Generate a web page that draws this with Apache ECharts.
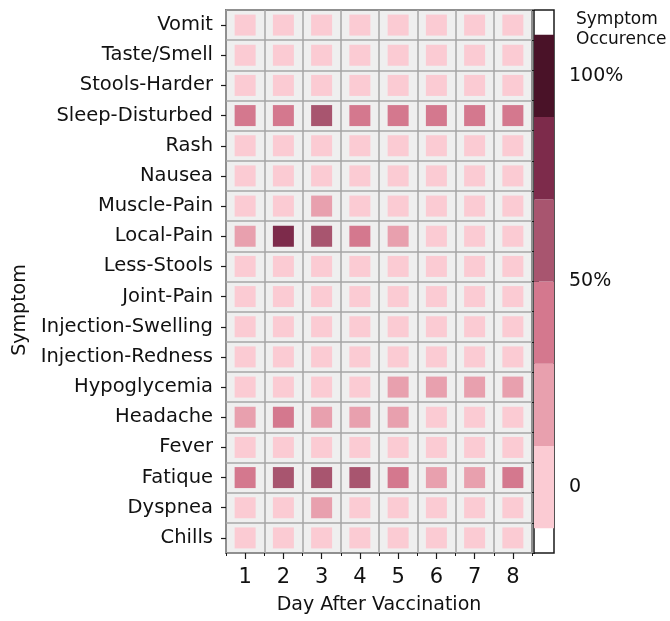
<!DOCTYPE html>
<html>
<head>
<meta charset="utf-8">
<script src="https://cdn.jsdelivr.net/npm/echarts@6/dist/echarts.min.js"></script>
<style>
  html, body { margin: 0; padding: 0; background: #fff; }
  #chart { width: 670px; height: 621px; }
</style>
</head>
<body>
<div id="chart"></div>
<script>
// Days after vaccination (x categories)
const days = ['1', '2', '3', '4', '5', '6', '7', '8'];

// Symptoms, listed top to bottom
const symptoms = [
  'Vomit', 'Taste/Smell', 'Stools-Harder', 'Sleep-Disturbed', 'Rash', 'Nausea',
  'Muscle-Pain', 'Local-Pain', 'Less-Stools', 'Joint-Pain', 'Injection-Swelling',
  'Injection-Redness', 'Hypoglycemia', 'Headache', 'Fever', 'Fatique', 'Dyspnea', 'Chills'
];

// Symptom occurrence in percent, one row per symptom, one column per day
const occurrence = [
  [2, 1, 3, 2, 1, 0, 1, 0],        // Vomit
  [1, 0, 2, 1, 0, 1, 0, 0],        // Taste/Smell
  [3, 2, 1, 2, 1, 0, 1, 0],        // Stools-Harder
  [38, 41, 57, 40, 42, 36, 34, 37],// Sleep-Disturbed
  [4, 2, 3, 1, 2, 0, 1, 0],        // Rash
  [5, 3, 4, 2, 1, 1, 0, 0],        // Nausea
  [7, 6, 18, 5, 3, 2, 1, 1],       // Muscle-Pain
  [21, 84, 63, 44, 22, 6, 4, 3],   // Local-Pain
  [2, 1, 1, 2, 1, 0, 0, 1],        // Less-Stools
  [4, 3, 5, 3, 2, 1, 1, 0],        // Joint-Pain
  [6, 4, 3, 2, 1, 1, 0, 0],        // Injection-Swelling
  [5, 4, 3, 2, 2, 1, 0, 0],        // Injection-Redness
  [6, 5, 4, 7, 17, 15, 16, 18],    // Hypoglycemia
  [23, 36, 21, 24, 19, 8, 6, 5],   // Headache
  [3, 5, 4, 2, 1, 0, 1, 0],        // Fever
  [41, 58, 62, 61, 43, 22, 20, 38],// Fatique
  [4, 3, 14, 3, 2, 1, 1, 0],       // Dyspnea
  [3, 4, 3, 2, 1, 0, 0, 1]         // Chills
];

// Colour scale: bin edges (percent) and one colour per bin
const binEdges = [-10, 10, 30, 50, 70, 90, 110];
const binColors = ['#fbcbd3', '#e8a0ae', '#d4788e', '#a8556f', '#7d2b4b', '#4a1228'];

// Colorbar tick values
const colorbarTicks = [0, 50, 100];

const FONT = 'DejaVu Sans';

const cells = [];
symptoms.forEach((s, r) => {
  days.forEach((d, c) => {
    cells.push([c, r, occurrence[r][c]]);
  });
});

const pieces = binColors.map((color, i) => ({
  gte: binEdges[i], lt: binEdges[i + 1], color
}));

const bins = binColors.map((color, i) => [binEdges[i], binEdges[i + 1], i]);

const chart = echarts.init(document.getElementById('chart'), null, { renderer: 'canvas' });

const option = {
  animation: false,
  backgroundColor: '#ffffff',
  textStyle: { fontFamily: FONT },
  grid: [
    { left: 226, top: 10, width: 306, height: 543, show: true,
      backgroundColor: '#efefef', borderColor: '#1a1a1a', borderWidth: 1.5 },
    { left: 534, top: 10, width: 20, height: 543, show: true,
      backgroundColor: '#ffffff', borderColor: '#1a1a1a', borderWidth: 1.5 }
  ],
  xAxis: [
    {
      gridIndex: 0, type: 'category', data: days, boundaryGap: true, position: 'bottom',
      axisLine: { show: false },
      axisTick: { show: true, alignWithLabel: true, length: 6, lineStyle: { color: '#1a1a1a', width: 1.2 } },
      axisLabel: { fontSize: 21, color: '#111', margin: 14, fontFamily: FONT },
      splitLine: { show: true, lineStyle: { color: '#a6a6a6', width: 1.5 } },
      name: 'Day After Vaccination', nameLocation: 'middle', nameGap: 43,
      nameTextStyle: { fontSize: 19, color: '#111', fontFamily: FONT }
    },
    {
      gridIndex: 0, type: 'category', data: days, boundaryGap: true, position: 'bottom',
      axisLine: { show: false },
      axisTick: { show: true, alignWithLabel: false, length: 3, lineStyle: { color: '#1a1a1a', width: 1 } },
      axisLabel: { show: false }, splitLine: { show: false }
    },
    { gridIndex: 1, type: 'value', min: 0, max: 1, show: false }
  ],
  yAxis: [
    {
      gridIndex: 0, type: 'category', data: symptoms, inverse: true, boundaryGap: true,
      axisLine: { show: false },
      axisTick: { show: true, alignWithLabel: true, length: 5, lineStyle: { color: '#1a1a1a', width: 1.2 } },
      axisLabel: { fontSize: 19.5, color: '#111', margin: 13, fontFamily: FONT },
      splitLine: { show: true, lineStyle: { color: '#a6a6a6', width: 1.5 } }
    },
    {
      gridIndex: 0, type: 'category', data: symptoms, inverse: true, boundaryGap: true,
      axisLine: { show: false },
      axisTick: { show: true, alignWithLabel: false, length: 3, lineStyle: { color: '#1a1a1a', width: 1 } },
      axisLabel: { show: false }, splitLine: { show: false }
    },
    {
      gridIndex: 1, type: 'value', min: -16, max: 116, position: 'right',
      axisLine: { show: false },
      axisTick: { show: true, length: 5, customValues: colorbarTicks, lineStyle: { color: '#1a1a1a', width: 1.2 } },
      axisLabel: {
        show: true, customValues: colorbarTicks, fontSize: 19, color: '#111', margin: 15, fontFamily: FONT,
        formatter: v => (v === 0 ? '0' : v + '%')
      },
      splitLine: { show: false }
    }
  ],
  visualMap: [{
    type: 'piecewise', show: false, seriesIndex: 0, dimension: 2, pieces
  }],
  graphic: [
    {
      type: 'text', left: 576, top: 10,
      style: { text: 'Symptom\nOccurence', fontSize: 17, lineHeight: 20, fill: '#111', fontFamily: FONT }
    },
    {
      type: 'text', x: 20, y: 310, rotation: Math.PI / 2,
      style: { text: 'Symptom', fontSize: 19, fill: '#111', fontFamily: FONT,
               textAlign: 'center', textVerticalAlign: 'middle' }
    }
  ],
  series: [
    {
      type: 'scatter', xAxisIndex: 0, yAxisIndex: 0,
      symbol: 'rect', symbolSize: [21, 21],
      data: cells,
      itemStyle: { opacity: 1 }
    },
    {
      type: 'custom', xAxisIndex: 2, yAxisIndex: 2,
      data: bins,
      renderItem: (params, api) => {
        const lo = api.value(0), hi = api.value(1);
        const p1 = api.coord([0, hi]);
        const p2 = api.coord([1, lo]);
        return {
          type: 'rect',
          shape: { x: p1[0], y: p1[1], width: p2[0] - p1[0], height: p2[1] - p1[1] },
          style: { fill: binColors[api.value(2)] }
        };
      }
    }
  ]
};

chart.setOption(option);
</script>
</body>
</html>
